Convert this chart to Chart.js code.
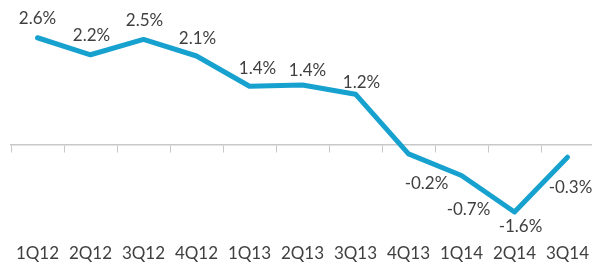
<!DOCTYPE html>
<html>
<head>
<meta charset="utf-8">
<script src="https://cdn.jsdelivr.net/npm/chart.js@4.4.0/dist/chart.umd.min.js"></script>
<style>
  html, body { margin: 0; padding: 0; background: #ffffff; overflow: hidden; width: 592px; height: 265px; }
  #wrap { position: absolute; left: 0; top: 0; width: 600px; height: 267px; }
</style>
</head>
<body>
<div id="wrap"><canvas id="c" width="600" height="267"></canvas></div>
<script>
// ---- data ----
const categories = ['1Q12', '2Q12', '3Q12', '4Q12', '1Q13', '2Q13', '3Q13', '4Q13', '1Q14', '2Q14', '3Q14'];
const growth = [2.58, 2.17, 2.54, 2.14, 1.41, 1.44, 1.22, -0.22, -0.74, -1.62, -0.30];

// ---- label placement (pixels, relative to each point) ----
const labelOffsets = [
  [0, -19], [1, -19], [1, -19], [1, -17], [8, -18], [5, -15],
  [6, -12], [18, 30], [7, 34], [6, 15], [3, 30]
];

const LINE_COLOR = '#17a1cf';
const TEXT_COLOR = '#404040';
const AXIS_COLOR = '#c8c8c8';
const FONT = 'Lato, "Open Sans", sans-serif';

const dataLabelPlugin = {
  id: 'dataLabels',
  afterDatasetsDraw(chart) {
    const ctx = chart.ctx;
    const meta = chart.getDatasetMeta(0);
    ctx.save();
    ctx.font = '17px ' + FONT;
    ctx.fillStyle = TEXT_COLOR;
    ctx.textAlign = 'center';
    ctx.textBaseline = 'middle';
    meta.data.forEach((pt, i) => {
      const v = chart.data.datasets[0].data[i];
      const off = labelOffsets[i];
      ctx.fillText(v.toFixed(1) + '%', pt.x + off[0], pt.y + off[1]);
    });
    ctx.restore();
  }
};

new Chart(document.getElementById('c'), {
  type: 'line',
  data: {
    labels: categories,
    datasets: [{
      data: growth,
      borderColor: LINE_COLOR,
      borderWidth: 5,
      borderCapStyle: 'round',
      borderJoinStyle: 'round',
      pointRadius: 0,
      pointHoverRadius: 0,
      tension: 0,
      fill: false,
      xAxisID: 'x',
      yAxisID: 'y'
    }]
  },
  options: {
    responsive: false,
    animation: false,
    devicePixelRatio: 1,
    layout: { padding: { left: 11, right: 6, top: 0, bottom: 0 } },
    plugins: {
      legend: { display: false },
      tooltip: { enabled: false },
      title: { display: false }
    },
    scales: {
      y: {
        display: false,
        min: -2.31,
        max: 3.49
      },
      x: {
        type: 'category',
        position: 'bottom',
        offset: true,
        grid: { display: false, drawTicks: false },
        border: { display: false },
        ticks: {
          color: TEXT_COLOR,
          font: { family: FONT, size: 17 },
          padding: 3,
          autoSkip: false,
          maxRotation: 0
        }
      },
      x0: {
        type: 'category',
        position: { y: 0 },
        offset: true,
        grid: {
          display: true,
          offset: true,
          drawOnChartArea: false,
          drawTicks: true,
          tickLength: 7,
          color: AXIS_COLOR,
          lineWidth: 1
        },
        border: { display: true, color: AXIS_COLOR, width: 1.5 },
        ticks: { display: false }
      }
    }
  },
  plugins: [dataLabelPlugin]
});
</script>
</body>
</html>
